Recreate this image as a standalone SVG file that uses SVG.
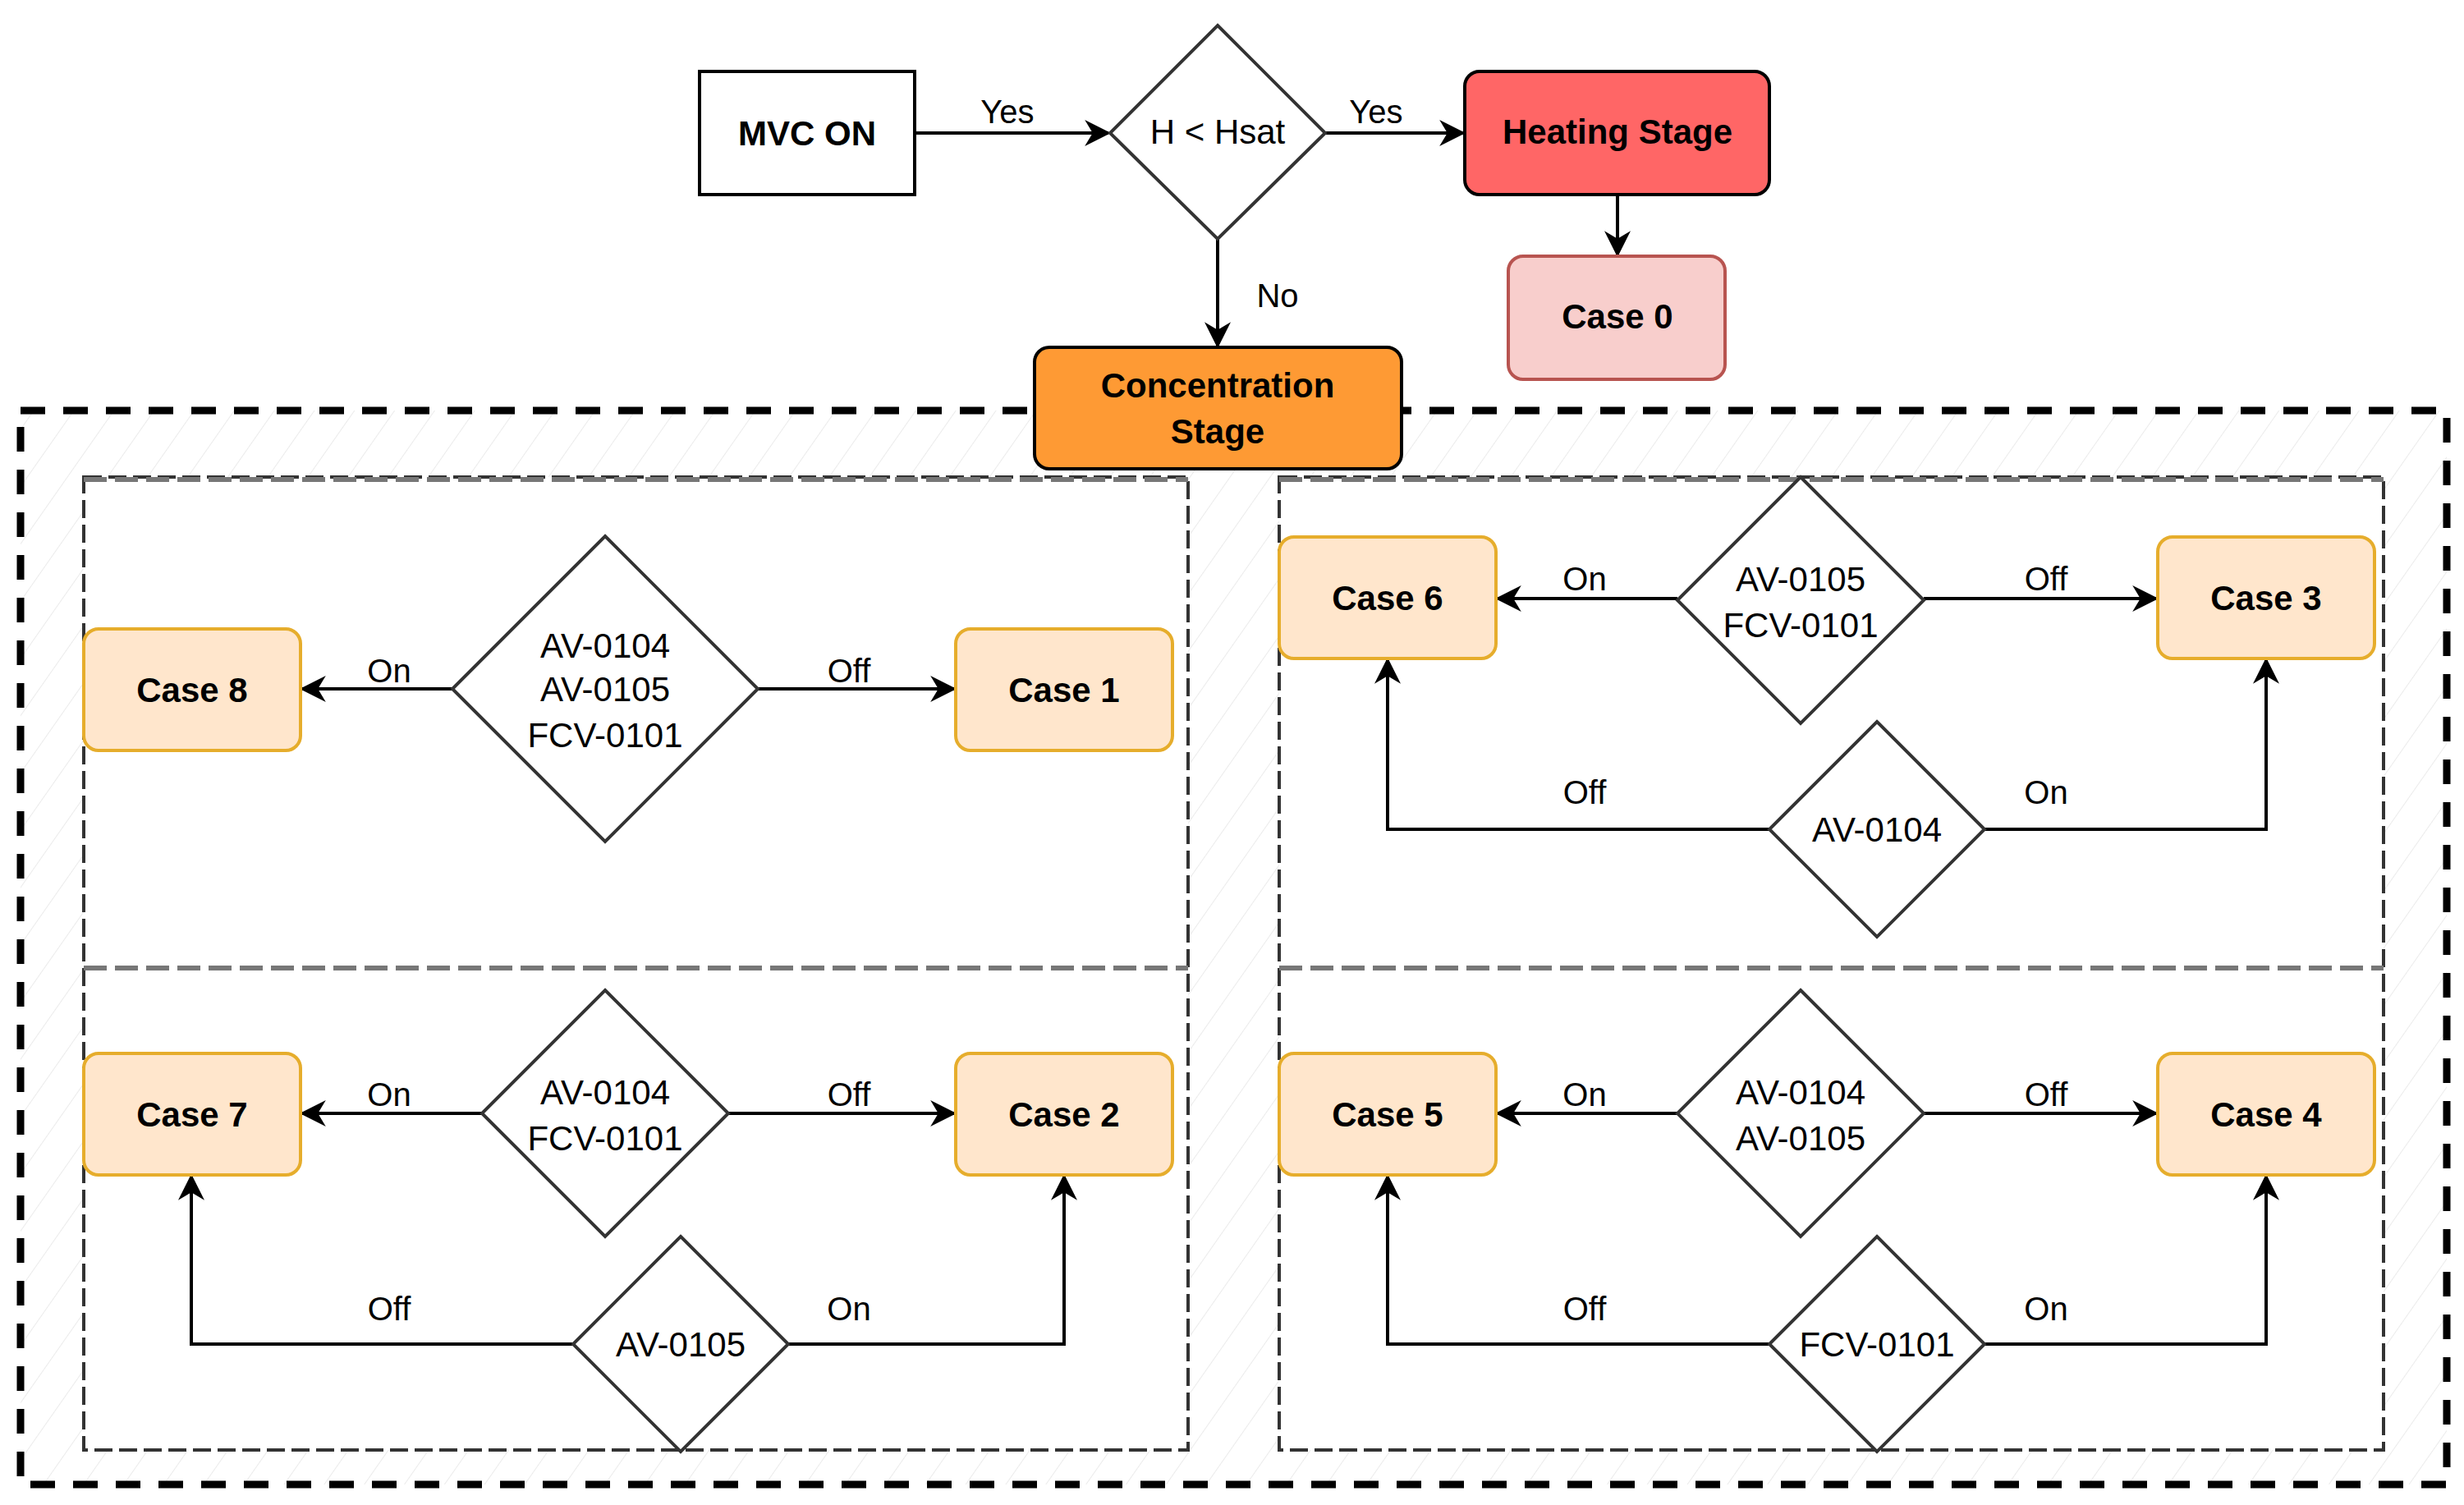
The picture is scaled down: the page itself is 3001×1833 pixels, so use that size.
<svg xmlns="http://www.w3.org/2000/svg" width="3001" height="1833" viewBox="0 0 3001 1833">
<defs>
<pattern id="hatch" width="40" height="40" patternUnits="userSpaceOnUse" patternTransform="rotate(35)"><line x1="0" y1="0" x2="0" y2="40" stroke="#ebebeb" stroke-width="2"/></pattern>
<marker id="ar" viewBox="0 0 10 10" refX="9" refY="5" markerWidth="7" markerHeight="7" markerUnits="userSpaceOnUse" orient="auto"><path d="M0,0 L10,5 L0,10 L3,5 z" fill="#000"/></marker>
<marker id="arw" viewBox="0 0 10 10" refX="9" refY="5" markerWidth="8" markerHeight="8" orient="auto"><path d="M0,0 L10,5 L0,10 L3,5 z" fill="#000"/></marker>
</defs>
<style>
text{font-family:"Liberation Sans",Arial,sans-serif;text-anchor:middle;dominant-baseline:central;fill:#000}
.b{font-weight:bold;font-size:42px}
.t{font-size:42px}
.l{font-size:40px}
.case{fill:#ffe6cc;stroke:#e6ad2c;stroke-width:4}
.dia{fill:#fff;stroke:#333;stroke-width:4}
.e{fill:none;stroke:#000;stroke-width:4;marker-end:url(#arw)}
</style>
<rect width="3001" height="1833" fill="#fff"/>
<rect x="25" y="500" width="2955" height="1308" fill="url(#hatch)" stroke="#000" stroke-width="9" stroke-dasharray="30,22"/>
<g id="panels" fill="#fff" stroke="#333" stroke-width="4" stroke-dasharray="22,8">
<rect x="102" y="581" width="1345" height="1185"/>
<rect x="1558" y="581" width="1345" height="1185"/>
</g>
<g stroke="#777" stroke-width="6" stroke-dasharray="28,10">
<line x1="102" y1="584" x2="1447" y2="584"/><line x1="1558" y1="584" x2="2903" y2="584"/>
<line x1="102" y1="1179" x2="1447" y2="1179"/><line x1="1558" y1="1179" x2="2903" y2="1179"/>
</g>
<g id="connectors">
<path class="e" d="M1114,162 H1350"/>
<path class="e" d="M1614,162 H1782"/>
<path class="e" d="M1970,237 V310"/>
<path class="e" d="M1483,291 V421"/>
<path class="e" d="M551,839 H368" stroke="#555"/>
<path class="e" d="M923,839 H1162" stroke="#555"/>
<path class="e" d="M587,1356 H368"/>
<path class="e" d="M887,1356 H1162"/>
<path class="e" d="M698,1637 H233 V1433"/>
<path class="e" d="M960,1637 H1296 V1433"/>
<path class="e" d="M2043,729 H1824"/>
<path class="e" d="M2343,729 H2626"/>
<path class="e" d="M2155,1010 H1690 V804"/>
<path class="e" d="M2417,1010 H2760 V804"/>
<path class="e" d="M2043,1356 H1824"/>
<path class="e" d="M2343,1356 H2626"/>
<path class="e" d="M2155,1637 H1690 V1433"/>
<path class="e" d="M2417,1637 H2760 V1433"/>
</g>
<g id="labels" class="l">
<text x="1227" y="136">Yes</text><text x="1676" y="136">Yes</text><text x="1556" y="360">No</text>
<text x="474" y="817">On</text><text x="1034" y="817">Off</text>
<text x="474" y="1333">On</text><text x="1034" y="1333">Off</text>
<text x="474" y="1594">Off</text><text x="1034" y="1594">On</text>
<text x="1930" y="705">On</text><text x="2492" y="705">Off</text>
<text x="1930" y="965">Off</text><text x="2492" y="965">On</text>
<text x="1930" y="1333">On</text><text x="2492" y="1333">Off</text>
<text x="1930" y="1594">Off</text><text x="2492" y="1594">On</text>
</g>
<g id="mvc"><rect x="852" y="87" width="262" height="150" fill="#fff" stroke="#000" stroke-width="4"/><text class="b" x="983" y="162">MVC ON</text></g>
<g id="hsat"><polygon class="dia" points="1483,31 1614,162 1483,291 1352,162"/><text class="t" x="1483" y="160">H &lt; Hsat</text></g>
<g id="heating"><rect x="1784" y="87" width="371" height="150" rx="18" fill="#ff6666" stroke="#000" stroke-width="4"/><text class="b" x="1970" y="160">Heating Stage</text></g>
<g id="case0"><rect x="1837" y="312" width="264" height="150" rx="18" fill="#f8cecc" stroke="#b85450" stroke-width="4"/><text class="b" x="1970" y="385">Case 0</text></g>
<g id="conc"><rect x="1260" y="423" width="447" height="148" rx="18" fill="#fe9a34" stroke="#000" stroke-width="4"/><text class="b" x="1483" y="469">Concentration</text><text class="b" x="1483" y="525">Stage</text></g>
<g id="case8"><rect class="case" x="102" y="766" width="264" height="148" rx="18"/><text class="b" x="234" y="840">Case 8</text></g>
<g id="case1"><rect class="case" x="1164" y="766" width="264" height="148" rx="18"/><text class="b" x="1296" y="840">Case 1</text></g>
<g id="d1"><polygon class="dia" points="737,653 923,839 737,1025 551,839"/><text class="t" x="737" y="786">AV-0104</text><text class="t" x="737" y="839">AV-0105</text><text class="t" x="737" y="895">FCV-0101</text></g>
<g id="case7"><rect class="case" x="102" y="1283" width="264" height="148" rx="18"/><text class="b" x="234" y="1357">Case 7</text></g>
<g id="case2"><rect class="case" x="1164" y="1283" width="264" height="148" rx="18"/><text class="b" x="1296" y="1357">Case 2</text></g>
<g id="d2"><polygon class="dia" points="737,1206 887,1356 737,1506 587,1356"/><text class="t" x="737" y="1330">AV-0104</text><text class="t" x="737" y="1386">FCV-0101</text></g>
<g id="d3"><polygon class="dia" points="829,1506 960,1637 829,1768 698,1637"/><text class="t" x="829" y="1637">AV-0105</text></g>
<g id="case6"><rect class="case" x="1558" y="654" width="264" height="148" rx="18"/><text class="b" x="1690" y="728">Case 6</text></g>
<g id="case3"><rect class="case" x="2628" y="654" width="264" height="148" rx="18"/><text class="b" x="2760" y="728">Case 3</text></g>
<g id="d4"><polygon class="dia" points="2193,581 2343,731 2193,881 2043,731"/><text class="t" x="2193" y="705">AV-0105</text><text class="t" x="2193" y="761">FCV-0101</text></g>
<g id="d5"><polygon class="dia" points="2286,879 2417,1010 2286,1141 2155,1010"/><text class="t" x="2286" y="1010">AV-0104</text></g>
<g id="case5"><rect class="case" x="1558" y="1283" width="264" height="148" rx="18"/><text class="b" x="1690" y="1357">Case 5</text></g>
<g id="case4"><rect class="case" x="2628" y="1283" width="264" height="148" rx="18"/><text class="b" x="2760" y="1357">Case 4</text></g>
<g id="d6"><polygon class="dia" points="2193,1206 2343,1356 2193,1506 2043,1356"/><text class="t" x="2193" y="1330">AV-0104</text><text class="t" x="2193" y="1386">AV-0105</text></g>
<g id="d7"><polygon class="dia" points="2286,1506 2417,1637 2286,1768 2155,1637"/><text class="t" x="2286" y="1637">FCV-0101</text></g>
</svg>
